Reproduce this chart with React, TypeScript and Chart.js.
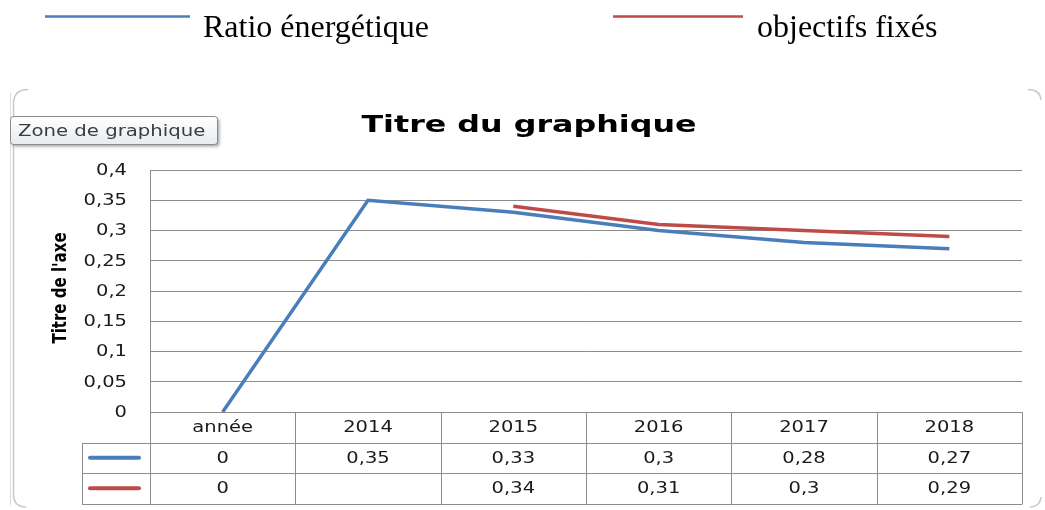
import React, { useEffect, useRef } from "react";
import { Chart, registerables } from "chart.js";

Chart.register(...registerables);

const categories = ["année", "2014", "2015", "2016", "2017", "2018"];
const ratioValues: (number | null)[] = [0, 0.35, 0.33, 0.3, 0.28, 0.27];
const objectifValues: (number | null)[] = [0, null, 0.34, 0.31, 0.3, 0.29];
const seriesNames = ["Ratio énergétique", "objectifs fixés"];
const yTickLabels = ["0", "0,05", "0,1", "0,15", "0,2", "0,25", "0,3", "0,35", "0,4"];
const chartTitle = "Titre du graphique";
const yAxisTitle = "Titre de l'axe";
const tooltipText = "Zone de graphique";

const W = 1045;
const H = 510;
const BLUE = "#4a7ebb";
const RED = "#be4b48";
const GRID = "#8c8c8c";

const fmt = (v: number | null) => (v == null ? "" : String(v).replace(".", ","));

function sText(ctx: CanvasRenderingContext2D, text: string, x: number, y: number, sx: number, align: CanvasTextAlign, baseline: CanvasTextBaseline = "alphabetic") {
  ctx.save();
  ctx.translate(x, y);
  ctx.scale(sx, 1);
  ctx.textAlign = align;
  ctx.textBaseline = baseline;
  ctx.fillText(text, 0, 0);
  ctx.restore();
}

function roundRect(ctx: CanvasRenderingContext2D, x: number, y: number, w: number, h: number, r: number) {
  ctx.beginPath();
  ctx.moveTo(x + r, y);
  ctx.lineTo(x + w - r, y);
  ctx.quadraticCurveTo(x + w, y, x + w, y + r);
  ctx.lineTo(x + w, y + h - r);
  ctx.quadraticCurveTo(x + w, y + h, x + w - r, y + h);
  ctx.lineTo(x + r, y + h);
  ctx.quadraticCurveTo(x, y + h, x, y + h - r);
  ctx.lineTo(x, y + r);
  ctx.quadraticCurveTo(x, y, x + r, y);
  ctx.closePath();
}

const decoPlugin = {
  id: "deco",
  beforeDraw(chart: any) {
    const ctx: CanvasRenderingContext2D = chart.ctx;
    ctx.save();
    ctx.fillStyle = "#ffffff";
    ctx.fillRect(0, 0, W, H);
    // faint chart-area frame: left edge and corner arcs only
    ctx.strokeStyle = "#c8c8c8";
    ctx.lineWidth = 1.5;
    ctx.beginPath();
    ctx.moveTo(28, 89.5);
    ctx.quadraticCurveTo(13.5, 89.5, 13.5, 104);
    ctx.lineTo(13.5, 494);
    ctx.quadraticCurveTo(13.5, 507, 26, 507);
    ctx.stroke();
    ctx.beginPath();
    ctx.moveTo(1028, 89.5);
    ctx.quadraticCurveTo(1040, 89.5, 1041, 100);
    ctx.stroke();
    ctx.beginPath();
    ctx.moveTo(1041, 497);
    ctx.quadraticCurveTo(1040, 507, 1030, 507);
    ctx.stroke();
    ctx.strokeStyle = "#dcdcdc";
    ctx.lineWidth = 1;
    ctx.beginPath();
    ctx.moveTo(10.5, 92);
    ctx.lineTo(10.5, 505);
    ctx.stroke();
    ctx.restore();
  },
  afterDraw(chart: any) {
    const ctx: CanvasRenderingContext2D = chart.ctx;
    const area = chart.chartArea;
    const xs = chart.scales.x;
    const ys = chart.scales.y;
    ctx.save();

    // Legend (top)
    const legendItems = [
      { color: BLUE, x0: 45, x1: 190, tx: 203 },
      { color: RED, x0: 613, x1: 743, tx: 757 },
    ];
    legendItems.forEach((it, i) => {
      ctx.strokeStyle = it.color;
      ctx.lineWidth = 2.5;
      ctx.lineCap = "butt";
      ctx.beginPath();
      ctx.moveTo(it.x0, 16.5);
      ctx.lineTo(it.x1, 16.5);
      ctx.stroke();
      ctx.fillStyle = "#000";
      ctx.font = '32px "Liberation Serif"';
      sText(ctx, seriesNames[i], it.tx, 37, 1, "left");
    });

    // Title
    ctx.fillStyle = "#000";
    ctx.font = 'bold 23px "DejaVu Sans"';
    sText(ctx, chartTitle, 529, 132, 1.38, "center");

    // Y axis title
    ctx.save();
    ctx.translate(61, 288);
    ctx.scale(1.3, 1);
    ctx.rotate(-Math.PI / 2);
    ctx.font = 'bold 15px "DejaVu Sans"';
    ctx.textAlign = "center";
    ctx.textBaseline = "middle";
    ctx.fillStyle = "#000";
    ctx.fillText(yAxisTitle, 0, 0);
    ctx.restore();

    // Y tick labels
    ctx.fillStyle = "#1a1a1a";
    ctx.font = '15px "DejaVu Sans"';
    ys.ticks.forEach((t: any, i: number) => {
      const y = ys.getPixelForValue(t.value);
      sText(ctx, yTickLabels[i] ?? "", 127, y + 1, 1.3, "right", "middle");
    });

    // Data table
    const n = categories.length;
    const band = (area.right - area.left) / n;
    const rowH = 30.5;
    const top = area.bottom;
    ctx.strokeStyle = GRID;
    ctx.lineWidth = 1;
    ctx.beginPath();
    for (let r = 1; r <= 3; r++) {
      const y = Math.round(top + r * rowH) + 0.5;
      ctx.moveTo(82, y);
      ctx.lineTo(area.right, y);
    }
    for (let i = 0; i <= n; i++) {
      const x = Math.round(area.left + i * band) + 0.5;
      ctx.moveTo(x, top);
      ctx.lineTo(x, Math.round(top + 3 * rowH) + 0.5);
    }
    ctx.moveTo(82.5, Math.round(top + rowH) + 0.5);
    ctx.lineTo(82.5, Math.round(top + 3 * rowH) + 0.5);
    ctx.stroke();

    // swatches
    [BLUE, RED].forEach((c, r) => {
      ctx.strokeStyle = c;
      ctx.lineWidth = 4;
      ctx.lineCap = "round";
      ctx.beginPath();
      const y = top + (r + 1.5) * rowH;
      ctx.moveTo(90, y);
      ctx.lineTo(139, y);
      ctx.stroke();
    });

    ctx.fillStyle = "#1a1a1a";
    ctx.font = '15px "DejaVu Sans"';
    categories.forEach((c, i) => {
      const cx = xs.getPixelForValue(i);
      sText(ctx, c, cx, top + rowH * 0.5 + 1, 1.3, "center", "middle");
      sText(ctx, fmt(ratioValues[i]), cx, top + rowH * 1.5 + 1, 1.3, "center", "middle");
      sText(ctx, fmt(objectifValues[i]), cx, top + rowH * 2.5 + 1, 1.3, "center", "middle");
    });

    // "Zone de graphique" tooltip
    ctx.save();
    ctx.shadowColor = "rgba(0,0,0,0.35)";
    ctx.shadowBlur = 3;
    ctx.shadowOffsetX = 2;
    ctx.shadowOffsetY = 2;
    const g = ctx.createLinearGradient(0, 116, 0, 144);
    g.addColorStop(0, "#ffffff");
    g.addColorStop(1, "#e9ecf0");
    ctx.fillStyle = g;
    roundRect(ctx, 10.5, 116.5, 207, 28, 3);
    ctx.fill();
    ctx.restore();
    ctx.strokeStyle = "#8a8a8a";
    ctx.lineWidth = 1;
    roundRect(ctx, 10.5, 116.5, 207, 28, 3);
    ctx.stroke();
    ctx.fillStyle = "#3c3c3c";
    ctx.font = '16px "DejaVu Sans"';
    sText(ctx, tooltipText, 18, 136, 1.23, "left");

    ctx.restore();
  },
};

export default function App() {
  const ref = useRef<HTMLCanvasElement | null>(null);
  useEffect(() => {
    document.body.style.margin = "0";
    if (!ref.current) return;
    const chart = new Chart(ref.current, {
      type: "line",
      data: {
        labels: categories,
        datasets: [
          {
            label: seriesNames[0],
            data: ratioValues,
            borderColor: BLUE,
            backgroundColor: BLUE,
            borderWidth: 3.5,
            pointRadius: 0,
            tension: 0,
            spanGaps: false,
          },
          {
            label: seriesNames[1],
            data: objectifValues,
            borderColor: RED,
            backgroundColor: RED,
            borderWidth: 3.5,
            pointRadius: 0,
            tension: 0,
            spanGaps: false,
          },
        ],
      },
      options: {
        responsive: false,
        animation: false,
        devicePixelRatio: 1,
        layout: { padding: { top: 170, right: 23, left: 0, bottom: 0 } },
        plugins: {
          legend: { display: false },
          title: { display: false },
          tooltip: { enabled: false },
        },
        scales: {
          x: {
            type: "category",
            offset: true,
            grid: { display: false },
            border: { display: false },
            ticks: { display: false },
            afterFit: (s: any) => {
              s.height = 98;
            },
          },
          y: {
            min: 0,
            max: 0.4,
            ticks: { stepSize: 0.05, display: false },
            grid: { color: GRID, lineWidth: 1, drawTicks: false },
            border: { display: true, color: GRID, width: 1 },
            afterFit: (s: any) => {
              s.width = 150;
            },
          },
        },
      },
      plugins: [decoPlugin],
    } as any);
    return () => chart.destroy();
  }, []);
  return (
    <div style={{ position: "absolute", left: 0, top: 0, width: W, height: H }}>
      <canvas ref={ref} width={W} height={H} style={{ display: "block" }} />
    </div>
  );
}
